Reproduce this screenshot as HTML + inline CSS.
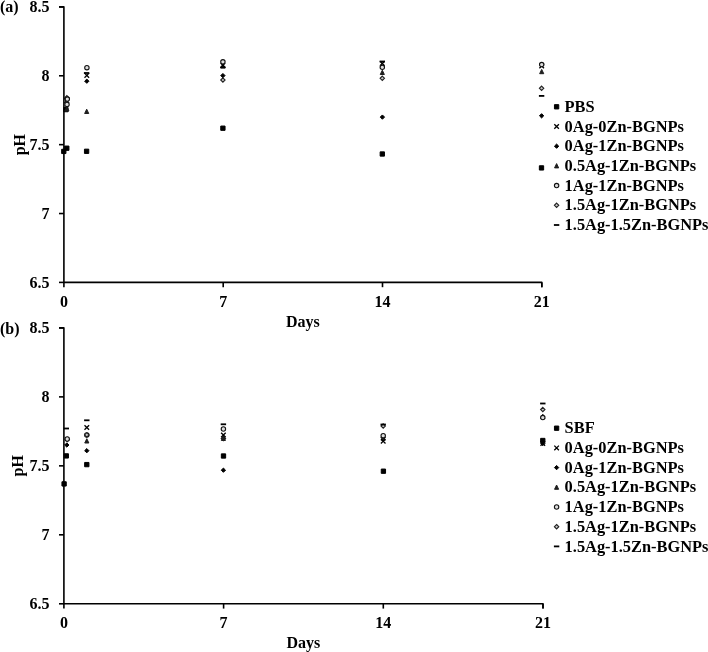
<!DOCTYPE html>
<html><head><meta charset="utf-8"><title>pH vs Days</title>
<style>
html,body{margin:0;padding:0;background:#fff;}
body{width:708px;height:652px;overflow:hidden;}
svg{display:block;}
svg text{font-family:'Liberation Serif',serif;font-weight:bold;font-size:16px;fill:#000;}
svg text.lg{font-size:16.4px;}
</style></head>
<body>
<svg width="708" height="652" viewBox="0 0 708 652">
<rect width="708" height="652" fill="#fff"/>
<path d="M59 6.9H63.9V282.4H541.8V287.20" stroke="#000" stroke-width="1.6" fill="none" stroke-linejoin="round"/>
<path d="M59 6.90H63.9" stroke="#000" stroke-width="1.6"/>
<text x="49.6" y="12.30" text-anchor="end">8.5</text>
<path d="M59 75.78H63.9" stroke="#000" stroke-width="1.6"/>
<text x="49.6" y="81.18" text-anchor="end">8</text>
<path d="M59 144.65H63.9" stroke="#000" stroke-width="1.6"/>
<text x="49.6" y="150.05" text-anchor="end">7.5</text>
<path d="M59 213.53H63.9" stroke="#000" stroke-width="1.6"/>
<text x="49.6" y="218.93" text-anchor="end">7</text>
<path d="M59 282.40H63.9" stroke="#000" stroke-width="1.6"/>
<text x="49.6" y="287.80" text-anchor="end">6.5</text>
<path d="M63.90 282.4V287.20" stroke="#000" stroke-width="1.6"/>
<text x="63.90" y="306.80" text-anchor="middle">0</text>
<path d="M223.20 282.4V287.20" stroke="#000" stroke-width="1.6"/>
<text x="223.20" y="306.80" text-anchor="middle">7</text>
<path d="M382.50 282.4V287.20" stroke="#000" stroke-width="1.6"/>
<text x="382.50" y="306.80" text-anchor="middle">14</text>
<path d="M541.80 282.4V287.20" stroke="#000" stroke-width="1.6"/>
<text x="541.80" y="306.80" text-anchor="middle">21</text>
<text x="0" y="11.70">(a)</text>
<text x="302.85" y="326.90" text-anchor="middle">Days</text>
<text transform="translate(24.9 144.65) rotate(-90)" text-anchor="middle">pH</text>
<rect x="61.65" y="149.25" width="4.3" height="4.3" fill="#000" stroke="#000" stroke-width="1" stroke-linejoin="round"/>
<rect x="64.65" y="146.05" width="4.3" height="4.3" fill="#000" stroke="#000" stroke-width="1" stroke-linejoin="round"/>
<rect x="63.75" y="107.45" width="4.3" height="4.3" fill="#000" stroke="#000" stroke-width="1" stroke-linejoin="round"/>
<path d="M66.90 106.70L68.95 111.00L64.85 111.00Z" fill="#1e1e1e" stroke="#1e1e1e" stroke-width="1" stroke-linejoin="round"/>
<path d="M66.90 95.60L69.10 97.80L66.90 100.00L64.70 97.80Z" fill="#c8c8c8" stroke="#222" stroke-width="1.1"/>
<path d="M64.50 98.30L69.10 102.90M69.10 98.30L64.50 102.90" stroke="#000" stroke-width="1.3" fill="none"/>
<circle cx="67.00" cy="104.40" r="2.2" fill="#ddd" stroke="#111" stroke-width="1.1"/>
<circle cx="67.30" cy="99.10" r="2.2" fill="#ddd" stroke="#111" stroke-width="1.1"/>
<rect x="84.45" y="149.15" width="4.3" height="4.3" fill="#000" stroke="#000" stroke-width="1" stroke-linejoin="round"/>
<path d="M86.70 109.20L88.75 113.50L84.65 113.50Z" fill="#1e1e1e" stroke="#1e1e1e" stroke-width="1" stroke-linejoin="round"/>
<path d="M86.80 79.05L88.95 81.20L86.80 83.35L84.65 81.20Z" fill="#000" stroke="#000" stroke-width="1" stroke-linejoin="round"/>
<path d="M84.50 73.10L89.10 77.70M89.10 73.10L84.50 77.70" stroke="#000" stroke-width="1.3" fill="none"/>
<rect x="83.90" y="72.10" width="5.4" height="1.8" fill="#000"/>
<circle cx="86.90" cy="67.70" r="2.2" fill="#ddd" stroke="#111" stroke-width="1.1"/>
<rect x="220.75" y="126.05" width="4.3" height="4.3" fill="#000" stroke="#000" stroke-width="1" stroke-linejoin="round"/>
<path d="M222.90 77.80L225.10 80.00L222.90 82.20L220.70 80.00Z" fill="#c8c8c8" stroke="#222" stroke-width="1.1"/>
<path d="M222.90 73.45L225.05 75.60L222.90 77.75L220.75 75.60Z" fill="#000" stroke="#000" stroke-width="1" stroke-linejoin="round"/>
<path d="M222.90 63.70L224.95 68.00L220.85 68.00Z" fill="#1e1e1e" stroke="#1e1e1e" stroke-width="1" stroke-linejoin="round"/>
<path d="M220.60 63.10L225.20 67.70M225.20 63.10L220.60 67.70" stroke="#000" stroke-width="1.3" fill="none"/>
<rect x="220.20" y="66.50" width="5.4" height="1.8" fill="#000"/>
<circle cx="222.90" cy="61.80" r="2.2" fill="#ddd" stroke="#111" stroke-width="1.1"/>
<rect x="380.15" y="151.85" width="4.3" height="4.3" fill="#000" stroke="#000" stroke-width="1" stroke-linejoin="round"/>
<path d="M382.40 114.95L384.55 117.10L382.40 119.25L380.25 117.10Z" fill="#000" stroke="#000" stroke-width="1" stroke-linejoin="round"/>
<path d="M382.30 76.10L384.50 78.30L382.30 80.50L380.10 78.30Z" fill="#c8c8c8" stroke="#222" stroke-width="1.1"/>
<path d="M382.30 70.20L384.35 74.50L380.25 74.50Z" fill="#1e1e1e" stroke="#1e1e1e" stroke-width="1" stroke-linejoin="round"/>
<path d="M380.00 61.20L384.60 65.80M384.60 61.20L380.00 65.80" stroke="#000" stroke-width="1.3" fill="none"/>
<circle cx="382.30" cy="67.30" r="2.2" fill="#ddd" stroke="#111" stroke-width="1.1"/>
<rect x="379.60" y="60.60" width="5.4" height="1.8" fill="#000"/>
<rect x="539.35" y="165.75" width="4.3" height="4.3" fill="#000" stroke="#000" stroke-width="1" stroke-linejoin="round"/>
<path d="M541.60 113.65L543.75 115.80L541.60 117.95L539.45 115.80Z" fill="#000" stroke="#000" stroke-width="1" stroke-linejoin="round"/>
<rect x="538.90" y="95.00" width="5.4" height="1.8" fill="#000"/>
<path d="M541.60 86.10L543.80 88.30L541.60 90.50L539.40 88.30Z" fill="#c8c8c8" stroke="#222" stroke-width="1.1"/>
<path d="M541.70 69.40L543.75 73.70L539.65 73.70Z" fill="#1e1e1e" stroke="#1e1e1e" stroke-width="1" stroke-linejoin="round"/>
<path d="M539.40 63.70L544.00 68.30M544.00 63.70L539.40 68.30" stroke="#000" stroke-width="1.3" fill="none"/>
<circle cx="541.70" cy="64.60" r="2.2" fill="#ddd" stroke="#111" stroke-width="1.1"/>
<rect x="554.45" y="104.65" width="4.3" height="4.3" fill="#000" stroke="#000" stroke-width="1" stroke-linejoin="round"/>
<text class="lg" x="564.6" y="111.90">PBS</text>
<path d="M554.30 124.20L558.90 128.80M558.90 124.20L554.30 128.80" stroke="#000" stroke-width="1.3" fill="none"/>
<text class="lg" x="564.6" y="131.60">0Ag-0Zn-BGNPs</text>
<path d="M556.60 144.05L558.75 146.20L556.60 148.35L554.45 146.20Z" fill="#000" stroke="#000" stroke-width="1" stroke-linejoin="round"/>
<text class="lg" x="564.6" y="151.30">0Ag-1Zn-BGNPs</text>
<path d="M556.60 163.60L558.65 167.90L554.55 167.90Z" fill="#1e1e1e" stroke="#1e1e1e" stroke-width="1" stroke-linejoin="round"/>
<text class="lg" x="564.6" y="171.00">0.5Ag-1Zn-BGNPs</text>
<circle cx="556.60" cy="185.60" r="2.2" fill="#ddd" stroke="#111" stroke-width="1.1"/>
<text class="lg" x="564.6" y="190.70">1Ag-1Zn-BGNPs</text>
<path d="M556.60 203.10L558.80 205.30L556.60 207.50L554.40 205.30Z" fill="#c8c8c8" stroke="#222" stroke-width="1.1"/>
<text class="lg" x="564.6" y="210.40">1.5Ag-1Zn-BGNPs</text>
<rect x="553.90" y="224.10" width="5.4" height="1.8" fill="#000"/>
<text class="lg" x="564.6" y="230.10">1.5Ag-1.5Zn-BGNPs</text>
<path d="M59 327.9H63.9V603.8H543.0V608.60" stroke="#000" stroke-width="1.6" fill="none" stroke-linejoin="round"/>
<path d="M59 327.90H63.9" stroke="#000" stroke-width="1.6"/>
<text x="49.6" y="333.30" text-anchor="end">8.5</text>
<path d="M59 396.88H63.9" stroke="#000" stroke-width="1.6"/>
<text x="49.6" y="402.27" text-anchor="end">8</text>
<path d="M59 465.85H63.9" stroke="#000" stroke-width="1.6"/>
<text x="49.6" y="471.25" text-anchor="end">7.5</text>
<path d="M59 534.82H63.9" stroke="#000" stroke-width="1.6"/>
<text x="49.6" y="540.22" text-anchor="end">7</text>
<path d="M59 603.80H63.9" stroke="#000" stroke-width="1.6"/>
<text x="49.6" y="609.20" text-anchor="end">6.5</text>
<path d="M63.90 603.8V608.60" stroke="#000" stroke-width="1.6"/>
<text x="63.90" y="628.20" text-anchor="middle">0</text>
<path d="M223.60 603.8V608.60" stroke="#000" stroke-width="1.6"/>
<text x="223.60" y="628.20" text-anchor="middle">7</text>
<path d="M383.30 603.8V608.60" stroke="#000" stroke-width="1.6"/>
<text x="383.30" y="628.20" text-anchor="middle">14</text>
<path d="M543.00 603.8V608.60" stroke="#000" stroke-width="1.6"/>
<text x="543.00" y="628.20" text-anchor="middle">21</text>
<text x="0" y="333.60">(b)</text>
<text x="303.45" y="648.30" text-anchor="middle">Days</text>
<text transform="translate(23.4 465.85) rotate(-90)" text-anchor="middle">pH</text>
<rect x="61.95" y="481.75" width="4.3" height="4.3" fill="#000" stroke="#000" stroke-width="1" stroke-linejoin="round"/>
<rect x="64.15" y="453.75" width="4.3" height="4.3" fill="#000" stroke="#000" stroke-width="1" stroke-linejoin="round"/>
<path d="M66.80 442.85L68.95 445.00L66.80 447.15L64.65 445.00Z" fill="#000" stroke="#000" stroke-width="1" stroke-linejoin="round"/>
<path d="M67.20 437.30L69.40 439.50L67.20 441.70L65.00 439.50Z" fill="#c8c8c8" stroke="#222" stroke-width="1.1"/>
<circle cx="67.20" cy="439.00" r="2.2" fill="#ddd" stroke="#111" stroke-width="1.1"/>
<rect x="63.60" y="427.60" width="5.4" height="1.8" fill="#000"/>
<rect x="84.65" y="462.45" width="4.3" height="4.3" fill="#000" stroke="#000" stroke-width="1" stroke-linejoin="round"/>
<path d="M86.80 448.55L88.95 450.70L86.80 452.85L84.65 450.70Z" fill="#000" stroke="#000" stroke-width="1" stroke-linejoin="round"/>
<path d="M86.80 438.70L88.85 443.00L84.75 443.00Z" fill="#1e1e1e" stroke="#1e1e1e" stroke-width="1" stroke-linejoin="round"/>
<circle cx="86.80" cy="434.90" r="2.2" fill="#ddd" stroke="#111" stroke-width="1.1"/>
<path d="M86.80 432.70L89.00 434.90L86.80 437.10L84.60 434.90Z" fill="#c8c8c8" stroke="#222" stroke-width="1.1"/>
<path d="M84.50 425.20L89.10 429.80M89.10 425.20L84.50 429.80" stroke="#000" stroke-width="1.3" fill="none"/>
<rect x="84.10" y="419.40" width="5.4" height="1.8" fill="#000"/>
<path d="M223.40 468.05L225.55 470.20L223.40 472.35L221.25 470.20Z" fill="#000" stroke="#000" stroke-width="1" stroke-linejoin="round"/>
<rect x="221.35" y="453.85" width="4.3" height="4.3" fill="#000" stroke="#000" stroke-width="1" stroke-linejoin="round"/>
<path d="M223.40 436.30L225.60 438.50L223.40 440.70L221.20 438.50Z" fill="#c8c8c8" stroke="#222" stroke-width="1.1"/>
<path d="M223.40 436.20L225.45 440.50L221.35 440.50Z" fill="#1e1e1e" stroke="#1e1e1e" stroke-width="1" stroke-linejoin="round"/>
<path d="M221.10 432.70L225.70 437.30M225.70 432.70L221.10 437.30" stroke="#000" stroke-width="1.3" fill="none"/>
<circle cx="223.40" cy="429.00" r="2.2" fill="#ddd" stroke="#111" stroke-width="1.1"/>
<rect x="220.70" y="423.40" width="5.4" height="1.8" fill="#000"/>
<rect x="381.25" y="469.05" width="4.3" height="4.3" fill="#000" stroke="#000" stroke-width="1" stroke-linejoin="round"/>
<path d="M383.20 435.35L385.35 437.50L383.20 439.65L381.05 437.50Z" fill="#000" stroke="#000" stroke-width="1" stroke-linejoin="round"/>
<path d="M383.20 436.00L385.25 440.30L381.15 440.30Z" fill="#1e1e1e" stroke="#1e1e1e" stroke-width="1" stroke-linejoin="round"/>
<path d="M380.90 438.90L385.50 443.50M385.50 438.90L380.90 443.50" stroke="#000" stroke-width="1.3" fill="none"/>
<circle cx="383.20" cy="435.70" r="2.2" fill="#ddd" stroke="#111" stroke-width="1.1"/>
<path d="M383.20 423.80L385.40 426.00L383.20 428.20L381.00 426.00Z" fill="#c8c8c8" stroke="#222" stroke-width="1.1"/>
<rect x="380.50" y="423.60" width="5.4" height="1.8" fill="#000"/>
<path d="M540.50 441.20L545.10 445.80M545.10 441.20L540.50 445.80" stroke="#000" stroke-width="1.3" fill="none"/>
<path d="M542.80 441.35L544.95 443.50L542.80 445.65L540.65 443.50Z" fill="#000" stroke="#000" stroke-width="1" stroke-linejoin="round"/>
<rect x="540.65" y="438.35" width="4.3" height="4.3" fill="#000" stroke="#000" stroke-width="1" stroke-linejoin="round"/>
<path d="M542.80 414.20L544.85 418.50L540.75 418.50Z" fill="#1e1e1e" stroke="#1e1e1e" stroke-width="1" stroke-linejoin="round"/>
<circle cx="542.80" cy="417.60" r="2.2" fill="#ddd" stroke="#111" stroke-width="1.1"/>
<path d="M542.80 407.30L545.00 409.50L542.80 411.70L540.60 409.50Z" fill="#c8c8c8" stroke="#222" stroke-width="1.1"/>
<rect x="540.10" y="402.60" width="5.4" height="1.8" fill="#000"/>
<rect x="554.45" y="426.05" width="4.3" height="4.3" fill="#000" stroke="#000" stroke-width="1" stroke-linejoin="round"/>
<text class="lg" x="564.6" y="433.30">SBF</text>
<path d="M554.30 445.60L558.90 450.20M558.90 445.60L554.30 450.20" stroke="#000" stroke-width="1.3" fill="none"/>
<text class="lg" x="564.6" y="453.00">0Ag-0Zn-BGNPs</text>
<path d="M556.60 465.45L558.75 467.60L556.60 469.75L554.45 467.60Z" fill="#000" stroke="#000" stroke-width="1" stroke-linejoin="round"/>
<text class="lg" x="564.6" y="472.70">0Ag-1Zn-BGNPs</text>
<path d="M556.60 485.00L558.65 489.30L554.55 489.30Z" fill="#1e1e1e" stroke="#1e1e1e" stroke-width="1" stroke-linejoin="round"/>
<text class="lg" x="564.6" y="492.40">0.5Ag-1Zn-BGNPs</text>
<circle cx="556.60" cy="507.00" r="2.2" fill="#ddd" stroke="#111" stroke-width="1.1"/>
<text class="lg" x="564.6" y="512.10">1Ag-1Zn-BGNPs</text>
<path d="M556.60 524.50L558.80 526.70L556.60 528.90L554.40 526.70Z" fill="#c8c8c8" stroke="#222" stroke-width="1.1"/>
<text class="lg" x="564.6" y="531.80">1.5Ag-1Zn-BGNPs</text>
<rect x="553.90" y="545.50" width="5.4" height="1.8" fill="#000"/>
<text class="lg" x="564.6" y="551.50">1.5Ag-1.5Zn-BGNPs</text>
</svg>
</body></html>
